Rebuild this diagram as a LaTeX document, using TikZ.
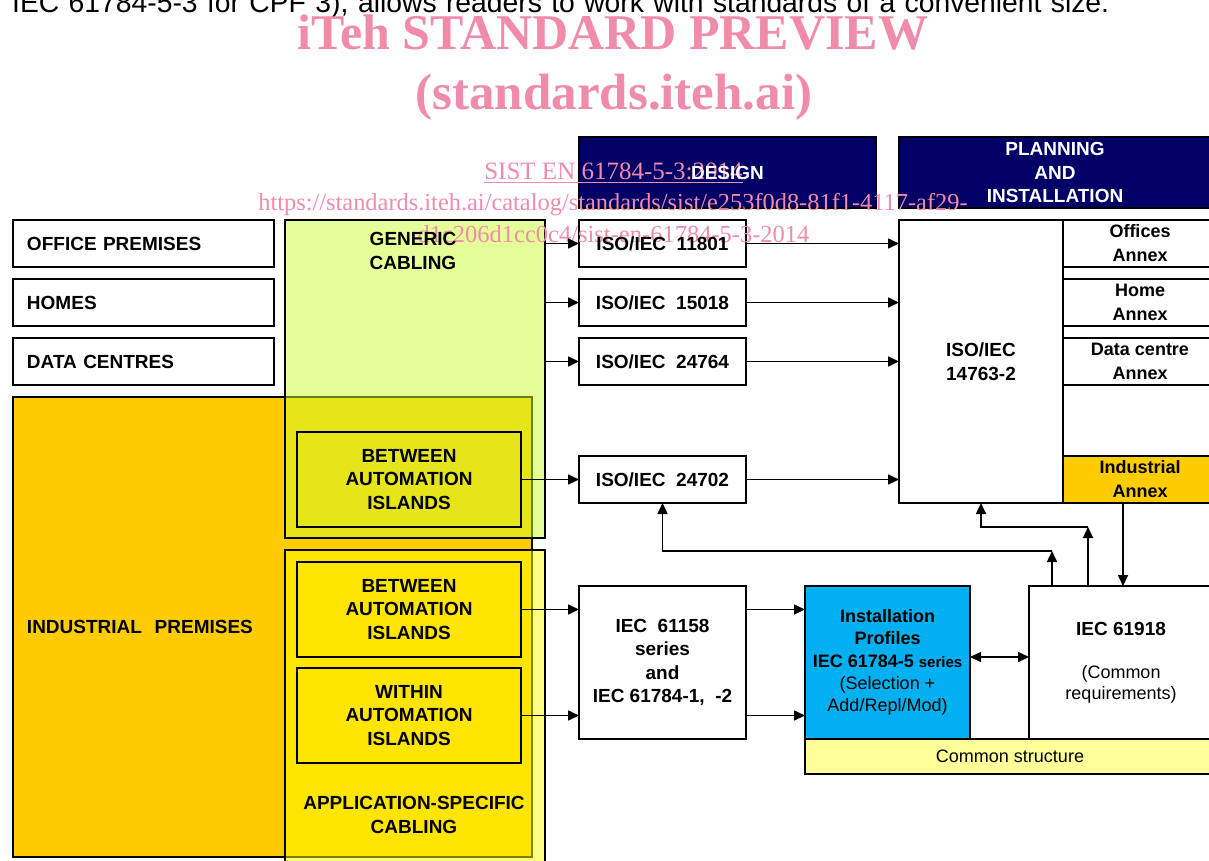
\documentclass[tikz,border=0pt]{standalone}
\usepackage{fontspec}
\setmainfont{Liberation Sans}
\newfontfamily\wmfont{Liberation Serif}
\usetikzlibrary{arrows.meta,calc}
\definecolor{navy}{HTML}{000066}
\definecolor{wmpink}{HTML}{F08CAA}
\definecolor{indorange}{HTML}{FFCC00}
\definecolor{genericgreen}{HTML}{CCFF33}
\definecolor{appyellow}{HTML}{FFFF00}
\definecolor{profcyan}{HTML}{00B0F0}
\definecolor{commonyellow}{HTML}{FFFF99}
\newcommand{\fb}{\fontsize{19}{23.5}\selectfont\bfseries}
\newcommand{\fa}{\fontsize{18}{24}\selectfont\bfseries}
\newcommand{\fr}{\fontsize{18}{21}\selectfont}
\newcommand{\bx}[7]{\node[#1, anchor=north west, minimum width={#5pt-#3pt}, minimum height={#6pt-#4pt}] (#2) at (#3,#4) {#7};}
\begin{document}
\begin{tikzpicture}[x=1pt,y=-1pt,
  box/.style={draw=black, line width=1.6pt, inner sep=0pt, outer sep=0pt, align=center, font=\fb},
  leftbox/.style={box, fill=white, align=left, inner xsep=14pt, text width=233pt},
  arr/.style={line width=1.6pt, -{Triangle[length=11pt,width=10pt]}},
  darr/.style={line width=1.6pt, {Triangle[length=11pt,width=10pt]}-{Triangle[length=11pt,width=10pt]}},
  wm/.style={text=wmpink, inner sep=0pt, anchor=base}]
\useasboundingbox (0,0) rectangle (1209,861);

% running text of the page
\node[anchor=base west, inner sep=0pt, font=\fontsize{28.3}{32}\selectfont] (toptext) at (12,13)
  {\makebox[1097pt][s]{IEC 61784-5-3 for CPF 3), allows readers to work with standards of a convenient size.}};

% left column
\bx{leftbox}{office}{13}{220}{274}{267}{OFFICE PREMISES}
\bx{leftbox}{homes}{13}{279}{274}{326}{HOMES}
\bx{leftbox}{datac}{13}{338}{274}{385}{DATA CENTRES}
\bx{leftbox, fill=indorange, text width=491pt}{industrial}{13}{397}{532}{857}{INDUSTRIAL\ \ PREMISES}

% cabling groups (transparent)
\bx{box, fill=genericgreen, fill opacity=0.5, text opacity=1}{generic}{285}{220}{545}{538}{}
\bx{box, fill=appyellow, fill opacity=0.5, text opacity=1}{appspec}{285}{550}{545}{880}{}
\bx{box}{betweenA}{297}{432}{521}{527}{BETWEEN\\AUTOMATION\\ISLANDS}
\bx{box}{betweenB}{297}{562}{521}{657}{BETWEEN\\AUTOMATION\\ISLANDS}
\bx{box}{within}{297}{668}{521}{763}{WITHIN\\AUTOMATION\\ISLANDS}
\node[font=\fb, align=center, inner sep=0pt] (apptext) at (414,815) {APPLICATION-SPECIFIC\\CABLING};

% headers
\bx{box, fill=navy}{design}{579}{137}{876}{208}{}
\bx{box, fill=navy, text=white}{planning}{899}{137}{1211}{208}{PLANNING\\AND\\INSTALLATION}

% design column
\bx{box, fill=white}{iso11801}{579}{220}{746}{267}{}
\bx{box, fill=white}{iso15018}{579}{279}{746}{326}{ISO/IEC\ \ 15018}
\bx{box, fill=white}{iso24764}{579}{338}{746}{385}{ISO/IEC\ \ 24764}
\bx{box, fill=white}{iso24702}{579}{456}{746}{503}{ISO/IEC\ \ 24702}
\bx{box, fill=white}{iec61158}{579}{586}{746}{739}{IEC\ \ 61158\\series\\and\\IEC 61784-1,\ \ -2}

% planning column
\bx{box, fill=white}{iso14763}{899}{220}{1063}{503}{ISO/IEC\\14763-2}
\bx{box, fill=white, font=\fa}{annexoff}{1063}{220}{1217}{267}{Offices\\Annex}
\bx{box, fill=white, font=\fa}{annexhome}{1063}{279}{1217}{326}{Home\\Annex}
\bx{box, fill=white, font=\fa}{annexdc}{1063}{338}{1217}{385}{Data centre\\Annex}
\bx{box, fill=indorange, font=\fa}{annexind}{1063}{456}{1217}{503}{Industrial\\Annex}

% installation
\bx{box, fill=profcyan, font=\fontsize{18}{22.3}\selectfont}{profiles}{805}{586}{970}{739}{{\bfseries Installation}\\{\bfseries Profiles}\\{\bfseries IEC 61784-5\ {\fontsize{15}{18}\selectfont series}}\\(Selection +\\Add/Repl/Mod)}
\bx{box, fill=white, font=\fr}{iec61918}{1029}{586}{1213}{739}{{\fb IEC 61918}\\[22pt](Common\\requirements)}
\bx{box, fill=commonyellow, font=\fr}{common}{805}{739}{1215}{774}{Common structure}

% watermark
\node[wm, font=\fontsize{50}{50}\wmfont\bfseries] (wm1) at (613,50) {iTeh STANDARD PREVIEW};
\node[wm, font=\fontsize{51}{51}\wmfont\bfseries] (wm2) at (614,110) {(standards.iteh.ai)};
\node[wm, font=\fontsize{25}{25}\wmfont] (wm3) at (613.5,180) {\underline{SIST EN 61784-5-3:2014}};
\node[wm, font=\fontsize{24.4}{25}\wmfont] (wm4) at (613,210) {https://standards.iteh.ai/catalog/standards/sist/e253f0d8-81f1-4117-af29-};
\node[wm, font=\fontsize{24.5}{25}\wmfont] (wm5) at (613.5,242) {d1c206d1cc0c4/sist-en-61784-5-3-2014};

% texts over the watermark
\node[font=\fb, text=white, inner sep=0pt] (designtext) at (design.center) {DESIGN};
\node[font=\fb, align=center, inner sep=0pt] (generictext) at (413,251) {GENERIC\\CABLING};
\node[font=\fb, inner sep=0pt] (iso11801text) at (iso11801.center) {ISO/IEC\ \ 11801};

% connectors
\draw[arr] (generic.east |- iso11801.west) -- (iso11801.west);
\draw[arr] (generic.east |- iso15018.west) -- (iso15018.west);
\draw[arr] (generic.east |- iso24764.west) -- (iso24764.west);
\draw[arr] (betweenA.east) -- (iso24702.west);
\draw[arr] (iso11801.east) -- (iso14763.west |- iso11801.east);
\draw[arr] (iso15018.east) -- (iso14763.west |- iso15018.east);
\draw[arr] (iso24764.east) -- (iso14763.west |- iso24764.east);
\draw[arr] (iso24702.east) -- (iso14763.west |- iso24702.east);
\draw[arr] (betweenB.east) -- (iec61158.west |- betweenB.east);
\draw[arr] (within.east) -- (iec61158.west |- within.east);
\draw[arr] (iec61158.east |- betweenB.east) -- (profiles.west |- betweenB.east);
\draw[arr] (iec61158.east |- within.east) -- (profiles.west |- within.east);
\coordinate (dy) at (0,657);
\draw[darr] (profiles.east |- dy) -- (iec61918.west |- dy);
\coordinate (xa) at (1123,0);
\draw[arr] (annexind.south -| xa) -- (iec61918.north -| xa);
\coordinate (k1) at (1088,527);
\draw[arr] (iec61918.north -| k1) -- (k1);
\draw[arr] (k1) -| (iso14763.south);
\coordinate (k2) at (1052,551);
\draw[arr] (iec61918.north -| k2) -- (k2);
\draw[arr] (k2) -| (iso24702.south);
\end{tikzpicture}
\end{document}
